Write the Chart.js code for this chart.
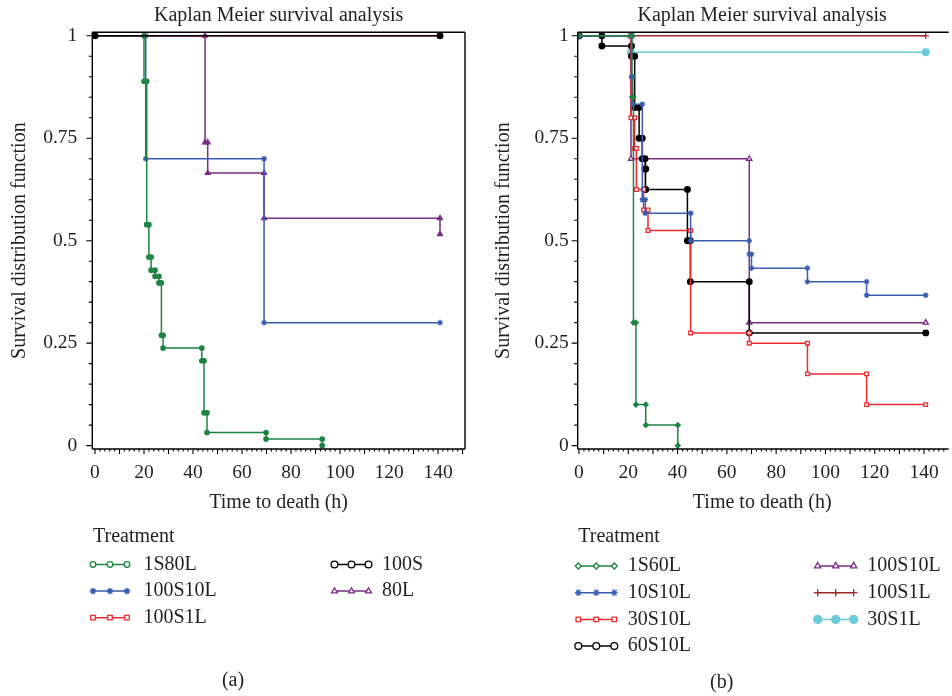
<!DOCTYPE html>
<html>
<head>
<meta charset="utf-8">
<script src="https://cdn.jsdelivr.net/npm/chart.js@4.4.0/dist/chart.umd.min.js"></script>
<style>
  html, body { margin: 0; padding: 0; background: #fff; overflow: hidden; }
  #wrap { position: relative; width: 952px; height: 696px; }
  canvas { position: absolute; top: 0; }
  #chart-a { left: 0; }
  #chart-b { left: 476px; }
</style>
</head>
<body>
<div id="wrap">
  <canvas id="chart-a" width="476" height="696"></canvas>
  <canvas id="chart-b" width="476" height="696"></canvas>
</div>
<script>
Chart.defaults.font.family = "'Liberation Serif', 'DejaVu Serif', serif";
Chart.defaults.color = '#231f20';

const TITLE = 'Kaplan Meier survival analysis';
const X_LABEL = 'Time to death (h)';
const Y_LABEL = 'Survival distribution function';
const LEGEND_TITLE = 'Treatment';
const X_TICKS = [0, 20, 40, 60, 80, 100, 120, 140];
const Y_TICKS = [0, 0.25, 0.5, 0.75, 1];
const Y_TICK_LABELS = ['0', '0.25', '0.5', '0.75', '1'];
const X_MINOR_STEP = 2, X_MAJOR_STEP = 10;
const Y_MINOR_STEP = 0.05, Y_MAJOR_STEP = 0.25;

// (a) — time of each drop (h) and the survival right after it
const A_LABELS = ['1S80L', '100S10L', '100S1L', '100S', '80L'];
const A_1S80L_T = [20.0, 21.1, 22.0, 22.9, 24.5, 26.1, 27.1, 27.8, 43.6, 44.5, 45.7, 69.8, 92.7];
const A_1S80L_S = [0.889, 0.539, 0.46, 0.428, 0.413, 0.397, 0.269, 0.238, 0.207, 0.08, 0.032, 0.016, 0];
const A_100S10L_T = [20.7, 69.0];
const A_100S10L_S = [0.70, 0.30];
const A_100S1L_T = [];
const A_100S1L_S = [];
const A_100S_T = [];
const A_100S_S = [];
const A_80L_T = [44.9, 46.0, 69.0, 140.8];
const A_80L_S = [0.74, 0.665, 0.555, 0.516];
const A_END = 140.8; // end of follow-up (censored)

// (b)
const B_LABELS = ['1S60L', '10S10L', '30S10L', '60S10L', '100S10L', '100S1L', '30S1L'];
const B_1S60L_T = [21.5, 22.1, 23.1, 27.1, 40.1];
const B_1S60L_S = [0.85, 0.30, 0.10, 0.05, 0];
const B_10S10L_T = [21.3, 21.8, 25.7, 26.9, 45.3, 69.1, 70.0, 92.7, 116.7];
const B_10S10L_S = [0.90, 0.833, 0.60, 0.567, 0.50, 0.467, 0.433, 0.40, 0.367];
const B_30S10L_T = [21.1, 22.6, 23.3, 26.2, 28.0, 45.3, 69.1, 92.7, 116.7];
const B_30S10L_S = [0.80, 0.725, 0.625, 0.575, 0.525, 0.275, 0.25, 0.175, 0.10];
const B_60S10L_T = [9.3, 21.3, 22.6, 24.4, 25.7, 26.8, 27.1, 44.0, 45.2, 69.1];
const B_60S10L_S = [0.975, 0.95, 0.825, 0.75, 0.70, 0.675, 0.625, 0.50, 0.40, 0.275];
const B_100S10L_T = [21.1, 69.1];
const B_100S10L_S = [0.70, 0.30];
const B_100S1L_T = [];
const B_100S1L_S = [];
const B_30S1L_T = [21.1];
const B_30S1L_S = [0.96];
const B_END = 140.7;

const GREEN = '#1f8443', BLUE = '#3a5db0', RED = '#ee2a2e', BLACK = '#000000';
const PURPLE = '#7a2c84', DARKRED = '#9e2a2b', CYAN = '#6dcbd9';

// Kaplan-Meier step: corner points before and after each drop
function kmPoints(times, surv, end) {
  const pts = [{ x: 0, y: 1 }];
  let prev = 1;
  times.forEach((t, i) => {
    pts.push({ x: t, y: prev }, { x: t, y: surv[i] });
    prev = surv[i];
  });
  const last = times.length ? times[times.length - 1] : 0;
  if (end != null && end > last) pts.push({ x: end, y: prev });
  return pts;
}

function series(label, times, surv, end, color, pointStyle, filled, radius, legendFilled) {
  return {
    label,
    data: kmPoints(times, surv, end),
    borderColor: color,
    borderWidth: 1.5,
    pointStyle,
    pointRadius: radius,
    pointBorderColor: color,
    pointBorderWidth: 1.3,
    pointBackgroundColor: filled ? color : '#ffffff',
    legendFill: legendFilled ? color : '#ffffff',
    tension: 0,
    fill: false
  };
}

const frameTicks = {
  id: 'frameTicks',
  afterDatasetsDraw(chart, args, opts) {
    const { ctx, chartArea: a, scales: { x, y } } = chart;
    ctx.save();
    ctx.strokeStyle = '#000';
    ctx.lineWidth = 1.4;
    ctx.beginPath();
    ctx.moveTo(a.left, a.bottom); ctx.lineTo(a.left, a.top);
    ctx.moveTo(a.left, a.top); ctx.lineTo(a.right + (opts.right ? 0 : 2), a.top);
    ctx.moveTo(a.left, a.bottom); ctx.lineTo(a.right + (opts.right ? 0 : 2), a.bottom);
    if (opts.right) { ctx.moveTo(a.right, a.top); ctx.lineTo(a.right, a.bottom); }
    ctx.stroke();
    ctx.lineWidth = 1.1;
    ctx.beginPath();
    const ny = Math.round(1 / Y_MINOR_STEP);
    for (let k = 0; k <= ny; k++) {
      const v = k * Y_MINOR_STEP;
      const py = y.getPixelForValue(v);
      const len = k % Math.round(Y_MAJOR_STEP / Y_MINOR_STEP) === 0 ? 6 : 3.5;
      ctx.moveTo(a.left, py); ctx.lineTo(a.left - len, py);
    }
    for (let v = 0; v <= x.max; v += X_MINOR_STEP) {
      const px = x.getPixelForValue(v);
      const len = v % X_MAJOR_STEP === 0 ? 5 : 2.5;
      ctx.moveTo(px, a.bottom); ctx.lineTo(px, a.bottom + len);
    }
    ctx.stroke();
    ctx.restore();
  }
};

const kmLegend = {
  id: 'kmLegend',
  afterDraw(chart, args, o) {
    const { ctx } = chart;
    const sets = chart.data.datasets;
    const rows = Math.ceil(sets.length / 2);
    ctx.save();
    ctx.font = "20px 'Liberation Serif', serif";
    ctx.fillStyle = '#231f20';
    ctx.textBaseline = 'middle';
    ctx.textAlign = 'left';
    ctx.fillText(LEGEND_TITLE, o.x0, o.headY);
    sets.forEach((ds, i) => {
      const col = i < rows ? 0 : 1;
      const row = col ? i - rows : i;
      const sx = col ? o.col2X : o.x0;
      const tx = col ? o.col2TextX : o.textX;
      const py = o.rowY0 + row * o.rowGap;
      ctx.strokeStyle = ds.borderColor;
      ctx.lineWidth = 1.5;
      ctx.beginPath();
      ctx.moveTo(sx, py); ctx.lineTo(sx + o.sampleLen, py);
      ctx.stroke();
      [0, 0.5, 1].forEach(f => {
        ctx.fillStyle = ds.legendFill;
        ctx.strokeStyle = ds.borderColor;
        ctx.lineWidth = 1.3;
        Chart.helpers.drawPoint(ctx, {
          pointStyle: ds.pointStyle, radius: ds.pointRadius + 0.6, rotation: 0, borderWidth: 1.3
        }, sx + f * o.sampleLen, py);
      });
      ctx.fillStyle = '#231f20';
      ctx.fillText(ds.label, tx, py);
    });
    ctx.textAlign = 'center';
    ctx.fillText(o.tag, o.tagX, o.tagY);
    ctx.restore();
  }
};

function makeChart(id, datasets, p) {
  const font = { size: 20 };
  return new Chart(document.getElementById(id), {
    type: 'line',
    data: { datasets },
    options: {
      responsive: false,
      animation: false,
      events: [],
      layout: { padding: { left: 0, top: 0, right: p.padRight, bottom: 181 } },
      scales: {
        x: {
          type: 'linear', min: p.xMin, max: p.xMax,
          afterBuildTicks: s => { s.ticks = X_TICKS.map(v => ({ value: v })); },
          afterFit: s => { s.height = 66; },
          grid: { display: false, drawTicks: false },
          border: { display: false },
          ticks: { padding: 12, font: { size: 19.5 }, maxRotation: 0, autoSkip: false, callback: v => String(v) },
          title: { display: true, text: X_LABEL, font, padding: { top: 0, bottom: 0 } }
        },
        y: {
          type: 'linear', min: -0.0083, max: 1.0085,
          afterBuildTicks: s => { s.ticks = Y_TICKS.map(v => ({ value: v })); },
          afterFit: s => { s.width = p.yWidth; },
          grid: { display: false, drawTicks: false },
          border: { display: false },
          ticks: { padding: p.yTickPad, font: { size: 19.5 }, autoSkip: false,
                   callback: v => Y_TICK_LABELS[Y_TICKS.indexOf(v)] },
          title: { display: true, text: Y_LABEL, font, padding: { top: p.yTitlePad, bottom: 0 } }
        }
      },
      plugins: {
        legend: { display: false },
        tooltip: { enabled: false },
        title: {
          display: true, text: TITLE, fullSize: false,
          font: { size: 20, weight: 'normal' }, color: '#231f20',
          padding: { top: 3.5, bottom: 4.8 }
        },
        frameTicks: { right: p.frameRight },
        kmLegend: p.legend
      }
    },
    plugins: [frameTicks, kmLegend]
  });
}

const dataA = [
  series(A_LABELS[0], A_1S80L_T, A_1S80L_S, null, GREEN, 'circle', true, 2.2, false),
  series(A_LABELS[1], A_100S10L_T, A_100S10L_S, A_END, BLUE, 'star', false, 2.8, false),
  series(A_LABELS[2], A_100S1L_T, A_100S1L_S, A_END, RED, 'rect', false, 2.6, false),
  series(A_LABELS[3], A_100S_T, A_100S_S, A_END, BLACK, 'circle', true, 2.8, false),
  series(A_LABELS[4], A_80L_T, A_80L_S, A_END, PURPLE, 'triangle', true, 2.8, false)
];
dataA[3].order = -1; // the 100S line sits on top at S = 1

const dataB = [
  series(B_LABELS[0], B_1S60L_T, B_1S60L_S, null, GREEN, 'rectRot', true, 2.4, false),
  series(B_LABELS[1], B_10S10L_T, B_10S10L_S, B_END, BLUE, 'star', false, 2.8, false),
  series(B_LABELS[2], B_30S10L_T, B_30S10L_S, B_END, RED, 'rect', false, 2.6, false),
  series(B_LABELS[3], B_60S10L_T, B_60S10L_S, B_END, BLACK, 'circle', true, 2.8, false),
  series(B_LABELS[4], B_100S10L_T, B_100S10L_S, B_END, PURPLE, 'triangle', false, 3, false),
  series(B_LABELS[5], B_100S1L_T, B_100S1L_S, B_END, DARKRED, 'cross', false, 3.2, false),
  series(B_LABELS[6], B_30S1L_T, B_30S1L_S, B_END, CYAN, 'circle', true, 3.4, true)
];

makeChart('chart-a', dataA, {
  xMin: -1.1, xMax: 151.0, padRight: 11, yWidth: 92.3, yTickPad: 15, yTitlePad: 7.5, frameRight: true,
  legend: { x0: 93, headY: 537, sampleLen: 34, textX: 143.5, col2X: 334.5, col2TextX: 382,
            rowY0: 564.5, rowGap: 26.6, tag: '(a)', tagX: 233, tagY: 681 }
});

makeChart('chart-b', dataB, {
  xMin: -0.52, xMax: 149.2, padRight: 0, yWidth: 101.7, yTickPad: 9, yTitlePad: 16, frameRight: false,
  legend: { x0: 102.3, headY: 537, sampleLen: 36, textX: 151.7, col2X: 341.7, col2TextX: 391.3,
            rowY0: 566, rowGap: 26.7, tag: '(b)', tagX: 245.7, tagY: 682.7 }
});
</script>
</body>
</html>
